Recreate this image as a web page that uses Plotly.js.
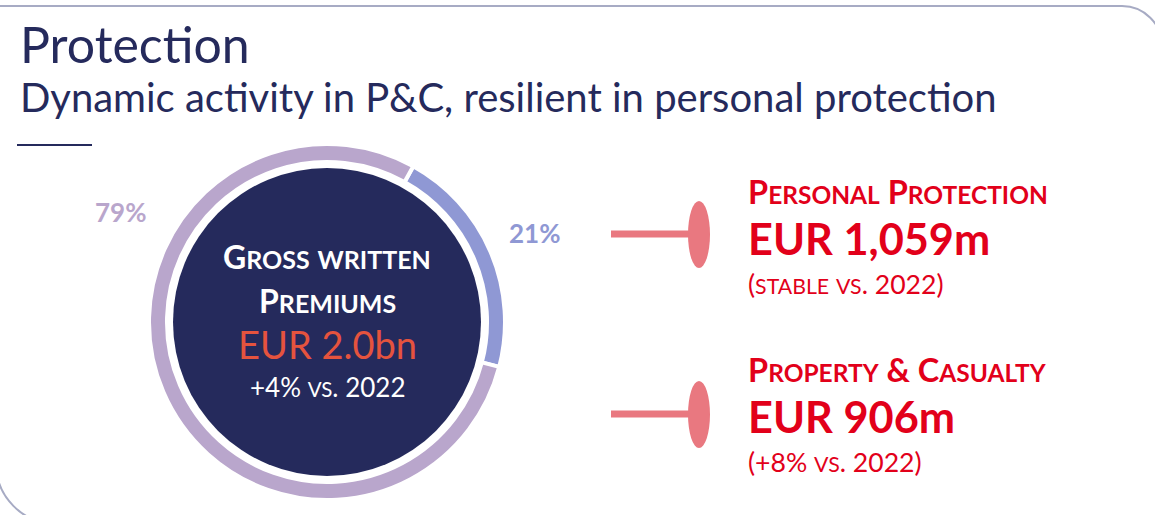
<!DOCTYPE html>
<html><head><meta charset="utf-8">
<script src="https://cdn.plot.ly/plotly-3.0.1.min.js"></script>
<style>html,body{margin:0;padding:0;background:#fff;overflow:hidden}#chart{width:1155px;height:515px;}</style>
</head><body><div id="chart"></div>
<script>
// ---- data ----
const shareLabels = ['21%', '79%'];
const shareValues = [21, 79];
const shareColors = ['#8f98d4', '#b9a6cc'];
const businessNames = ['Personal Protection', 'Property & Casualty'];
const businessAmounts = ['EUR 1,059m', 'EUR 906m'];
const businessChanges = ['(stable vs. 2022)', '(+8% vs. 2022)'];
const centerTitle = ['Gross written', 'Premiums'];
const centerTotal = 'EUR 2.0bn';
const centerChange = '+4% vs. 2022';
const pageTitle = 'Protection';
const pageSubtitle = 'Dynamic activity in P&C, resilient in personal protection';

// ---- layout helpers ----
const W = 1155, H = 515;
const NAVY = '#252a5c', RED = '#e2001a', PINK = '#e97880';
const FONT = 'Lato, "Open Sans", sans-serif';

// small caps: lowercase runs become smaller uppercase
function smallCaps(str, small) {
  return str.replace(/[a-z]+/g, m => `<span style="font-size:${small}px">${m.toUpperCase()}</span>`);
}

const cx = 327, cy = 322, rOuter = 178, rDark = 154;

const pie = {
  type: 'pie',
  values: shareValues,
  labels: shareLabels,
  sort: false,
  direction: 'clockwise',
  rotation: 29,
  hole: 0.899,
  textinfo: 'none',
  hoverinfo: 'skip',
  showlegend: false,
  marker: {colors: shareColors, line: {color: '#ffffff', width: 4}},
  domain: {x: [(cx - rOuter) / W, (cx + rOuter) / W], y: [1 - (cy + rOuter) / H, 1 - (cy - rOuter) / H]}
};

function ann(text, x, y, size, color, opts) {
  return Object.assign({xref: 'x', yref: 'y', x: x, y: y, text: text, showarrow: false,
    xanchor: 'left', yanchor: 'middle', font: {family: FONT, size: size, color: color}}, opts || {});
}
function bold(size, color) { return {family: FONT, size: size, color: color, weight: 700}; }

const annotations = [
  ann(pageTitle, 18, 44, 50, NAVY),
  ann(pageSubtitle, 18, 97, 40, NAVY),
  ann(shareLabels[1], 120, 212, 26, shareColors[1], {xanchor: 'center', font: bold(26, shareColors[1])}),
  ann(shareLabels[0], 534, 233, 26, shareColors[0], {xanchor: 'center', font: bold(26, shareColors[0])}),
  ann(smallCaps(centerTitle[0], 25), cx, 256, 32, '#ffffff', {xanchor: 'center', font: bold(32, '#ffffff')}),
  ann(smallCaps(centerTitle[1], 25), cx, 300, 32, '#ffffff', {xanchor: 'center', font: bold(32, '#ffffff')}),
  ann(centerTotal, cx, 344, 38, '#e5533e', {xanchor: 'center'}),
  ann(smallCaps(centerChange, 20.5), cx, 387, 26, '#ffffff', {xanchor: 'center'}),
];
const rowY = [[191, 238, 284], [369, 416, 462]];
businessNames.forEach((n, i) => {
  annotations.push(ann(smallCaps(n, 24.5), 746, rowY[i][0], 32.5, RED, {font: bold(32.5, RED)}));
  annotations.push(ann(businessAmounts[i], 746, rowY[i][1], 43.3, RED, {font: bold(43.3, RED)}));
  annotations.push(ann(smallCaps(businessChanges[i], 21.3), 746, rowY[i][2], 26.6, RED));
});

const connY = [234, 414];
const k = 0.5523;
const shapes = [
  // frame
  {type: 'path', xref: 'x', yref: 'y',
   path: `M -20 6 L 1122 6 C ${1122 + 40 * k} 6 1162 ${46 - 40 * k} 1162 46 L 1162 600`,
   line: {color: '#a7abc4', width: 2}},
  {type: 'path', xref: 'x', yref: 'y',
   path: `M -4 300 L -4 463.7 C -4 ${463.7 + 60 * k} ${56 - 60 * k} 523.7 56 523.7 L 1200 523.7`,
   line: {color: '#a7abc4', width: 2}},
  // title underline
  {type: 'line', xref: 'x', yref: 'y', x0: 17, x1: 92, y0: 145, y1: 145, line: {color: NAVY, width: 2}},
  // dark centre disc
  {type: 'circle', xref: 'x', yref: 'y', x0: cx - rDark, x1: cx + rDark, y0: cy - rDark, y1: cy + rDark, fillcolor: NAVY, line: {width: 0}, layer: 'below'},
];
connY.forEach(y => {
  shapes.push({type: 'line', xref: 'x', yref: 'y', x0: 611, x1: 692, y0: y, y1: y, line: {color: PINK, width: 7}});
  shapes.push({type: 'circle', xref: 'x', yref: 'y', x0: 688, x1: 710, y0: y - 33, y1: y + 34, fillcolor: PINK, line: {width: 0}});
});

const layout = {
  width: W, height: H,
  margin: {l: 0, r: 0, t: 0, b: 0},
  paper_bgcolor: '#ffffff', plot_bgcolor: '#ffffff',
  xaxis: {range: [0, W], visible: false, fixedrange: true},
  yaxis: {range: [H, 0], visible: false, fixedrange: true},
  showlegend: false,
  annotations: annotations,
  shapes: shapes
};

Plotly.newPlot('chart', [pie], layout, {displayModeBar: false, staticPlot: true});
</script></body></html>
